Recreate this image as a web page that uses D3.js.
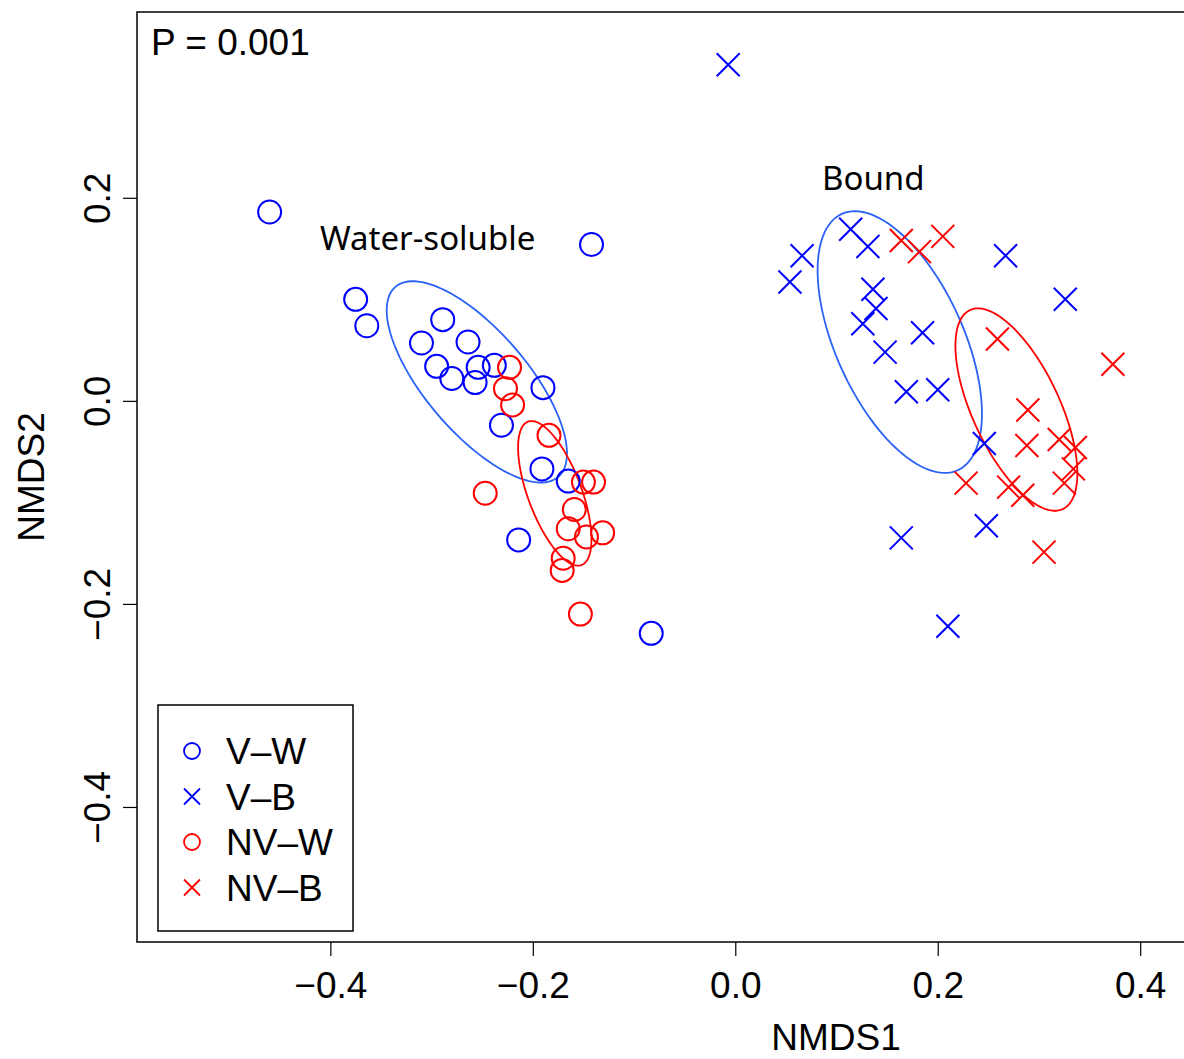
<!DOCTYPE html>
<html>
<head>
  <meta charset="utf-8">
  <title>NMDS</title>
  <script src="https://d3js.org/d3.v7.min.js"></script>
  <style>
    body { margin: 0; background: #fff; }
    svg { display: block; }
  </style>
</head>
<body>
<svg id="main-svg"></svg>
<script type="text/javascript">
  const svg_width = 1184;
  const svg_height = 1059;

  // V-W (blue circles)
  const vW = [
    [-0.460, 0.186], [-0.142, 0.154], [-0.375, 0.100], [-0.364, 0.074],
    [-0.289, 0.080], [-0.310, 0.057], [-0.264, 0.058], [-0.295, 0.034],
    [-0.280, 0.022], [-0.254, 0.033], [-0.238, 0.035], [-0.257, 0.018],
    [-0.190, 0.013], [-0.231, -0.024], [-0.191, -0.067], [-0.165, -0.079],
    [-0.214, -0.137], [-0.083, -0.229]
  ];
  // NV-W (red circles)
  const nvW = [
    [-0.223, 0.033], [-0.227, 0.012], [-0.220, -0.004], [-0.184, -0.034],
    [-0.247, -0.091], [-0.150, -0.080], [-0.140, -0.080], [-0.159, -0.107],
    [-0.165, -0.126], [-0.147, -0.134], [-0.131, -0.130], [-0.170, -0.155],
    [-0.171, -0.167], [-0.153, -0.210]
  ];
  // V-B (blue crosses)
  const vB = [
    [-0.007, 0.331], [0.114, 0.169], [0.131, 0.152], [0.066, 0.143],
    [0.054, 0.117], [0.136, 0.110], [0.139, 0.091], [0.126, 0.076],
    [0.185, 0.067], [0.148, 0.048], [0.169, 0.009], [0.200, 0.011],
    [0.267, 0.143], [0.326, 0.100], [0.246, -0.042], [0.248, -0.123],
    [0.164, -0.135], [0.210, -0.222]
  ];
  // NV-B (red crosses)
  const nvB = [
    [0.164, 0.158], [0.182, 0.147], [0.205, 0.162], [0.259, 0.061],
    [0.373, 0.036], [0.289, -0.009], [0.288, -0.044], [0.320, -0.038],
    [0.336, -0.046], [0.334, -0.067], [0.325, -0.081], [0.228, -0.081],
    [0.270, -0.085], [0.284, -0.093], [0.305, -0.149]
  ];

  // ellipses: [cx, cy, semi-major, semi-minor, angle in degrees]
  const ellipseVW = [-0.2553, 0.0187, 0.1234, 0.0503, -49.3];
  const ellipseNVW = [-0.1783, -0.0911, 0.0754, 0.0265, -69.5];
  const ellipseVB = [0.1625, 0.0579, 0.1386, 0.0632, -65.6];
  const ellipseNVB = [0.2777, -0.0086, 0.1082, 0.0431, -64.9];

  const xTicks = [-0.4, -0.2, 0.0, 0.2, 0.4];
  const yTicks = [-0.4, -0.2, 0.0, 0.2];
  const legendLabels = ["V\u2013W", "V\u2013B", "NV\u2013W", "NV\u2013B"];

  var box = { left: 137, top: 12, right: 1535, bottom: 942 };

  var x = d3.scaleLinear()
    .domain([-0.591, 0.790])
    .range([box.left, box.right]);

  var y = d3.scaleLinear()
    .domain([-0.533, 0.383])
    .range([box.bottom, box.top]);

  var blue = "#0000ff", red = "#ff0000", ellBlue = "#2a62f5";
  var axisFont = "'Liberation Sans', Arial, sans-serif";

  var svg = d3.select("#main-svg")
    .attr("width", svg_width)
    .attr("height", svg_height);

  // ellipses
  function ellipsePath(e) {
    var pts = d3.range(0, 361, 3).map(function(deg) {
      var t = deg * Math.PI / 180, r = e[4] * Math.PI / 180;
      var ex = e[2] * Math.cos(t), ey = e[3] * Math.sin(t);
      return [x(e[0] + ex * Math.cos(r) - ey * Math.sin(r)),
              y(e[1] + ex * Math.sin(r) + ey * Math.cos(r))];
    });
    return d3.line()(pts) + "Z";
  }

  [[ellipseVW, ellBlue], [ellipseNVW, red], [ellipseVB, ellBlue], [ellipseNVB, red]]
    .forEach(function(d) {
      svg.append("path")
        .attr("d", ellipsePath(d[0]))
        .attr("fill", "none")
        .attr("stroke", d[1])
        .attr("stroke-width", 1.8);
    });

  function drawCircles(data, col) {
    svg.append("g").selectAll("circle")
      .data(data)
      .enter().append("circle")
      .attr("cx", function(d) { return x(d[0]); })
      .attr("cy", function(d) { return y(d[1]); })
      .attr("r", 11.5)
      .attr("fill", "none")
      .attr("stroke", col)
      .attr("stroke-width", 2);
  }

  function crossPath(cx, cy, s) {
    return "M" + (cx - s) + "," + (cy - s) + "L" + (cx + s) + "," + (cy + s) +
      "M" + (cx - s) + "," + (cy + s) + "L" + (cx + s) + "," + (cy - s);
  }

  function drawCrosses(data, col) {
    svg.append("g").selectAll("path")
      .data(data)
      .enter().append("path")
      .attr("d", function(d) { return crossPath(x(d[0]), y(d[1]), 11.5); })
      .attr("fill", "none")
      .attr("stroke", col)
      .attr("stroke-width", 2);
  }

  drawCircles(vW, blue);
  drawCrosses(vB, blue);
  drawCircles(nvW, red);
  drawCrosses(nvB, red);

  // plot box
  svg.append("rect")
    .attr("x", box.left)
    .attr("y", box.top)
    .attr("width", box.right - box.left)
    .attr("height", box.bottom - box.top)
    .attr("fill", "none")
    .attr("stroke", "#000")
    .attr("stroke-width", 1.5);

  // axes
  var xAxis = d3.axisBottom(x)
    .tickValues(xTicks)
    .tickSize(14)
    .tickPadding(16)
    .tickFormat(function(d) { return d3.format(".1f")(d).replace("-", "\u2212"); });

  var gx = svg.append("g")
    .attr("transform", "translate(0," + box.bottom + ")")
    .call(xAxis);
  gx.select(".domain").remove();
  gx.selectAll(".tick line").attr("stroke-width", 1.2);
  gx.selectAll(".tick text")
    .attr("font-family", axisFont)
    .attr("font-size", 37)
    .attr("fill", "#000");

  var yAxis = d3.axisLeft(y)
    .tickValues(yTicks)
    .tickSize(14)
    .tickFormat(function(d) { return d3.format(".1f")(d).replace("-", "\u2212"); });

  var gy = svg.append("g")
    .attr("transform", "translate(" + box.left + ",0)")
    .call(yAxis);
  gy.select(".domain").remove();
  gy.selectAll(".tick line").attr("stroke-width", 1.2);
  gy.selectAll(".tick text")
    .attr("font-family", axisFont)
    .attr("font-size", 37)
    .attr("fill", "#000")
    .attr("x", 0)
    .attr("dy", 0)
    .attr("text-anchor", "middle")
    .attr("transform", "translate(-27,0) rotate(-90)");

  // axis titles
  svg.append("text")
    .attr("x", (box.left + box.right) / 2)
    .attr("y", 1050)
    .attr("text-anchor", "middle")
    .attr("font-family", axisFont)
    .attr("font-size", 37)
    .text("NMDS1");

  svg.append("text")
    .attr("transform", "translate(44," + ((box.top + box.bottom) / 2) + ") rotate(-90)")
    .attr("text-anchor", "middle")
    .attr("font-family", axisFont)
    .attr("font-size", 37)
    .text("NMDS2");

  // annotations
  svg.append("text")
    .attr("x", 151)
    .attr("y", 55)
    .attr("font-family", axisFont)
    .attr("font-size", 37)
    .text("P = 0.001");

  svg.append("text")
    .attr("x", 320)
    .attr("y", 250)
    .attr("font-family", "'Noto Sans', sans-serif")
    .attr("font-size", 33)
    .text("Water-soluble");

  svg.append("text")
    .attr("x", 822)
    .attr("y", 190)
    .attr("font-family", "'Noto Sans', sans-serif")
    .attr("font-size", 33)
    .text("Bound");

  // legend
  var legend = svg.append("g");
  legend.append("rect")
    .attr("x", 158)
    .attr("y", 705)
    .attr("width", 195)
    .attr("height", 226)
    .attr("fill", "#fff")
    .attr("stroke", "#000")
    .attr("stroke-width", 1.5);

  var items = legend.selectAll(".item")
    .data(legendLabels)
    .enter().append("g")
    .attr("class", "item")
    .attr("transform", function(d, i) { return "translate(0," + (751 + i * 45.5) + ")"; });

  items.each(function(d, i) {
    var g = d3.select(this);
    var col = i < 2 ? blue : red;
    if (i % 2 === 0) {
      g.append("circle")
        .attr("cx", 192).attr("cy", 0).attr("r", 8)
        .attr("fill", "none").attr("stroke", col).attr("stroke-width", 1.8);
    } else {
      g.append("path")
        .attr("d", crossPath(192, 0, 8))
        .attr("fill", "none").attr("stroke", col).attr("stroke-width", 1.8);
    }
    g.append("text")
      .attr("x", 226)
      .attr("y", 13)
      .attr("font-family", axisFont)
      .attr("font-size", 37)
      .text(d);
  });
</script>
</body>
</html>
